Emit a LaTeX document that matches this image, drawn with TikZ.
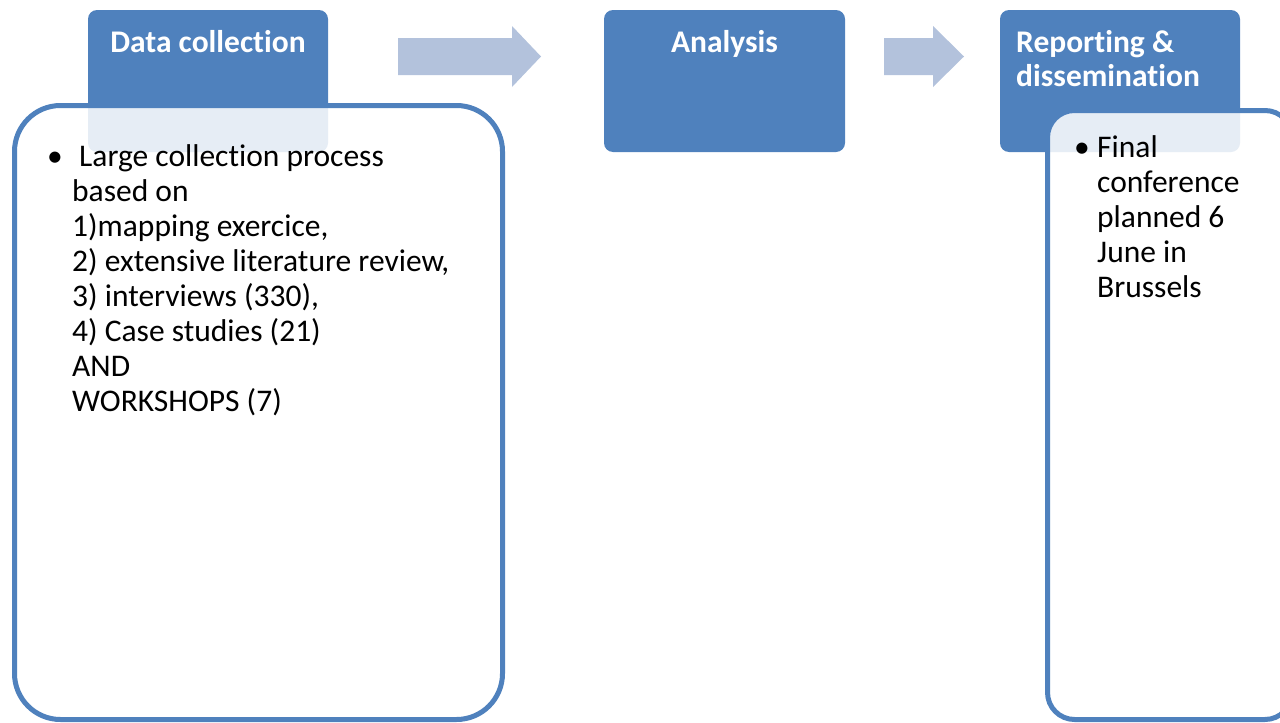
\documentclass[tikz,border=0pt]{standalone}
\usepackage{fontspec}
\setmainfont{Carlito}[RawFeature={-liga}]
\definecolor{hdrblue}{RGB}{79,129,189}
\definecolor{arrowblue}{RGB}{179,194,220}
\tikzset{
  header/.style={fill=hdrblue, draw=none, rounded corners=9pt},
  panel/.style={draw=hdrblue, line width=5pt, fill=white, fill opacity=0.86},
  blockarrow/.style={fill=arrowblue, draw=none},
  title/.style={text=white, font=\fontsize{31.5}{34}\selectfont\bfseries, inner sep=0pt},
  body/.style={text=black, font=\fontsize{31.5}{35}\selectfont, inner sep=0pt, align=left},
}
\begin{document}
\begin{tikzpicture}[x=1pt,y=-1pt]
\useasboundingbox (0,0) rectangle (1280,723);
% headers
\path[header] (88,10) rectangle (328,152);
\path[header] (604,10) rectangle (845,152);
\path[header] (1000,10) rectangle (1240,152);
\node[title, anchor=base] (t1) at (208,52) {Data collection};
\node[title, anchor=base] (t2) at (724.5,52) {Analysis};
\node[title, anchor=base west, align=left] (t3) at (1016,52) {Reporting \&};
\node[title, anchor=base west, align=left] (t3b) at (1016,86) {dissemination};
% arrows
\path[blockarrow] (398,38) -- (512,38) -- (512,26) -- (541,56.5) -- (512,87) -- (512,75) -- (398,75) -- cycle;
\path[blockarrow] (884,38) -- (933,38) -- (933,26) -- (964,56.5) -- (933,87) -- (933,75) -- (884,75) -- cycle;
% panels
\draw[panel, rounded corners=46pt] (14.5,105.5) rectangle (502.5,719.5);
\draw[panel, rounded corners=27pt] (1047.5,110.5) rectangle (1292,719.5);
% left text
\node[body, anchor=base] (b1) at (55,166) {\textbullet};
\node[body, anchor=base west] (l1) at (79,166) {Large collection process};
\node[body, anchor=base west] (l2) at (72,201) {based on};
\node[body, anchor=base west] (l3) at (72,236) {1)mapping exercice,};
\node[body, anchor=base west] (l4) at (72,271) {2) extensive literature review,};
\node[body, anchor=base west] (l5) at (72,306) {3) interviews (330),};
\node[body, anchor=base west] (l6) at (72,341) {4) Case studies (21)};
\node[body, anchor=base west] (l7) at (72,376) {AND};
\node[body, anchor=base west] (l8) at (72,411) {WORKSHOPS (7)};
% right text
\node[body, anchor=base] (b2) at (1082,157) {\textbullet};
\node[body, anchor=base west] (r1) at (1097,157) {Final};
\node[body, anchor=base west] (r2) at (1097,192) {conference};
\node[body, anchor=base west] (r3) at (1097,227) {planned 6};
\node[body, anchor=base west] (r4) at (1097,262) {June in};
\node[body, anchor=base west] (r5) at (1097,297) {Brussels};
\end{tikzpicture}
\end{document}
